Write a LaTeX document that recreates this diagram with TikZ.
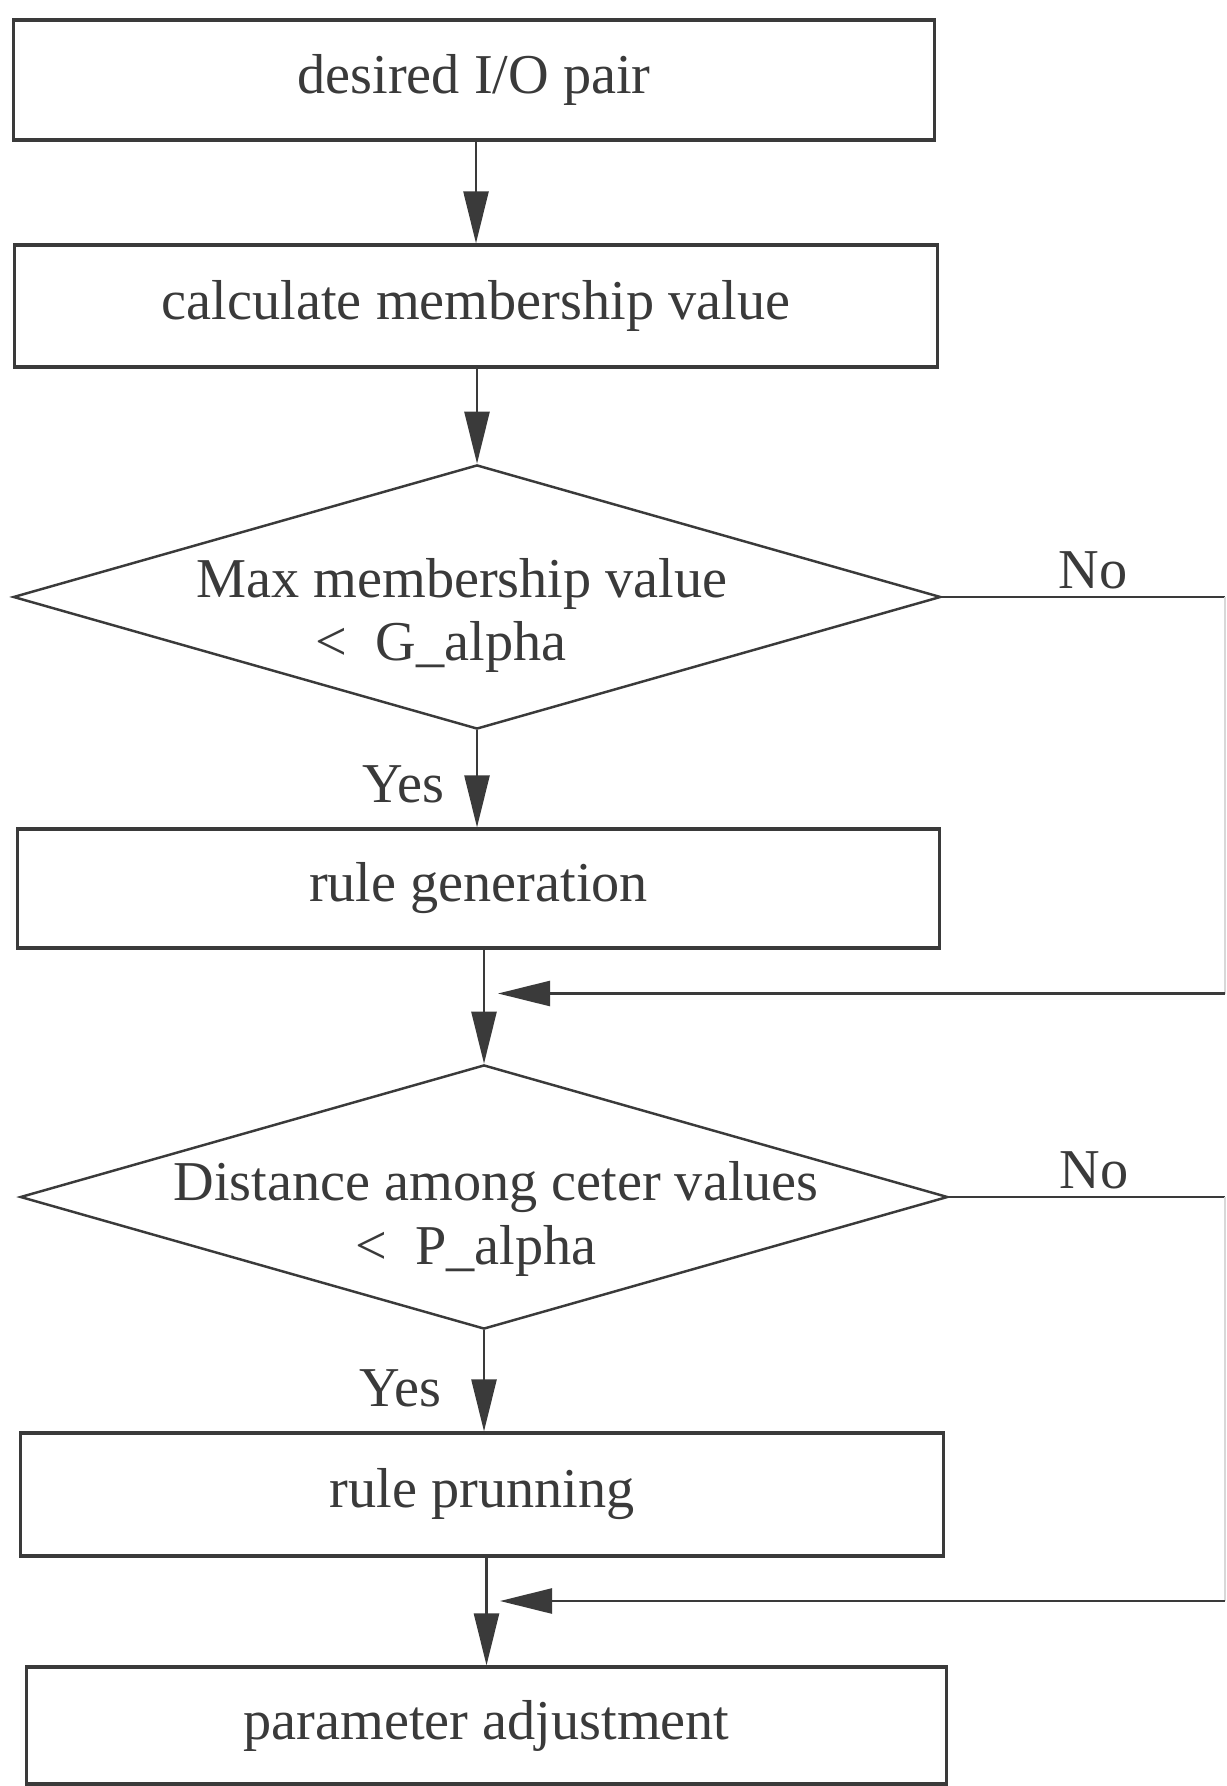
\documentclass[tikz,border=0pt]{standalone}
\usepackage{fontspec}
\setmainfont{Liberation Serif}
\usetikzlibrary{shapes.geometric,arrows.meta}
\definecolor{ink}{HTML}{3A3A3A}
\begin{document}
\begin{tikzpicture}[x=0.01cm,y=-0.01cm,
  every node/.style={text=ink, font=\fontsize{16}{18}\selectfont},
  procbox/.style={draw=ink, line width=0.9pt, rectangle, inner sep=0pt},
  decbox/.style={draw=ink, line width=0.7pt, diamond, inner sep=0pt},
  flow/.style={draw=ink, line width=0.7pt, -{Triangle[length=0.52cm,width=0.25cm]}},
  plainline/.style={draw=ink, line width=0.7pt},
  faintline/.style={draw=ink!20, line width=0.7pt},
  lbl/.style={inner sep=0pt}]
\useasboundingbox (0,0) rectangle (1226,1786);
\fill[white] (0,0) rectangle (1226,1786);

\node[procbox, minimum width=9.20cm, minimum height=1.20cm] (b1) at (474,80) {desired I/O pair};
\node[procbox, minimum width=9.22cm, minimum height=1.22cm] (b2) at (476,306) {calculate membership value};
\node[decbox, minimum width=9.27cm, minimum height=2.64cm] (d1) at (477,597) {};
\node[lbl] (d1a) at (462,584) {Max membership value};
\node[lbl] (d1b) at (441,647) {<~ G\_alpha};
\node[procbox, minimum width=9.21cm, minimum height=1.19cm] (b3) at (478.5,888.5) {rule generation};
\node[decbox, minimum width=9.27cm, minimum height=2.64cm] (d2) at (484,1197) {};
\node[lbl] (d2a) at (496,1187) {Distance among ceter values};
\node[lbl] (d2b) at (476,1251) {<~ P\_alpha};
\node[procbox, minimum width=9.22cm, minimum height=1.23cm] (b4) at (482,1494.5) {rule prunning};
\node[procbox, minimum width=9.19cm, minimum height=1.17cm] (b5) at (486.5,1725.5) {parameter adjustment};

\node[lbl] (y1) at (403,784) {Yes};
\node[lbl] (y2) at (400,1388) {Yes};
\node[lbl] (n1) at (1093,570) {No};
\node[lbl] (n2) at (1094,1170) {No};

\path[flow] (b2.north |- b1.south) -- (b2.north);
\path[flow] (b2.south -| d1.north) -- (d1.north);
\path[flow] (d1.south) -- (d1.south |- b3.north);
\path[flow] (b3.south -| d2.north) -- (d2.north);
\path[flow] (d2.south) -- (d2.south |- b4.north);
\path[flow] (b4.south -| b5.north) -- (b5.north);

\coordinate (r1) at (1225,597);
\coordinate (r2) at (1225,993.5);
\coordinate (m1) at (498,993.5);
\coordinate (r3) at (1225,1197);
\coordinate (r4) at (1225,1601);
\coordinate (m2) at (500,1601);

\path[plainline] (d1.east) -- (r1);
\path[faintline] (r1) -- (r2);
\path[flow] (r2) -- (m1);
\path[plainline] (d2.east) -- (r3);
\path[faintline] (r3) -- (r4);
\path[flow] (r4) -- (m2);
\end{tikzpicture}
\end{document}
